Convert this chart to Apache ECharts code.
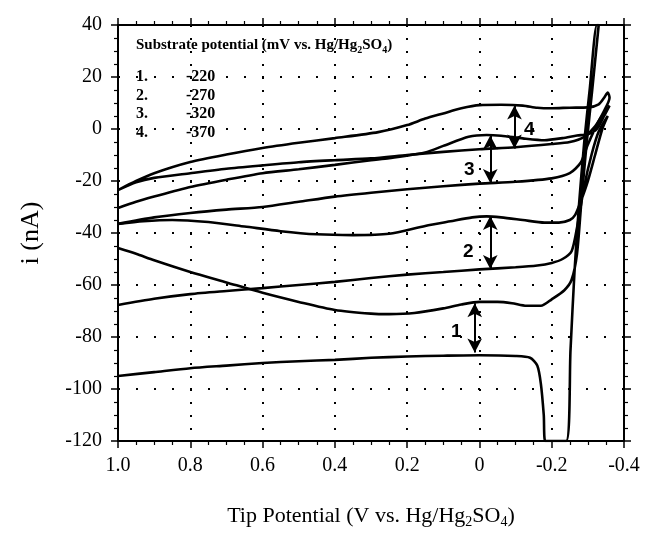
<!DOCTYPE html>
<html>
<head>
<meta charset="utf-8">
<script src="https://cdn.jsdelivr.net/npm/echarts@6/dist/echarts.min.js"></script>
<style>
  html, body { margin: 0; padding: 0; background: #fff; }
  #chart { width: 648px; height: 537px; }
</style>
</head>
<body>
<div id="chart"></div>
<script>
// tick labels
const xTickLabels = ["-0.4", "-0.2", "0", "0.2", "0.4", "0.6", "0.8", "1.0"];
const yTickLabels = ["-120", "-100", "-80", "-60", "-40", "-20", "0", "20", "40"];

// legend
const legendNums = ["1.", "2.", "3.", "4."];
const substratePotentials = ["-220", "-270", "-320", "-370"];

// curve 1 (-220 mV): forward scan then return, [tip potential, current]
const curve1 = [
  [1.0, -95], [0.9, -93.5], [0.8, -92], [0.7, -91], [0.6, -90], [0.5, -89.3],
  [0.4, -88.8], [0.3, -88], [0.2, -87.5], [0.1, -87.2], [0.0, -87], [-0.1, -87.3],
  [-0.14, -88], [-0.16, -91], [-0.17, -98], [-0.178, -110], [-0.182, -120],
  [-0.24, -120], [-0.252, -85], [-0.263, -55], [-0.275, -30], [-0.29, -5],
  [-0.305, 15], [-0.325, 40],
  [-0.33, 40], [-0.312, 15], [-0.297, -5], [-0.282, -28], [-0.27, -48],
  [-0.255, -58], [-0.235, -62], [-0.2, -65.5], [-0.17, -68], [-0.13, -68],
  [-0.09, -67], [-0.05, -66.5], [0.0, -66.5], [0.05, -67.5], [0.1, -69],
  [0.18, -70.8], [0.25, -71.2], [0.3, -71], [0.4, -69.6], [0.5, -66.5],
  [0.6, -63], [0.7, -59], [0.8, -55], [0.9, -50.5], [0.95, -48], [1.0, -45.8]
];

// curve 2 (-270 mV)
const curve2 = [
  [1.0, -67.7], [0.9, -65.3], [0.8, -63.5], [0.7, -62.3], [0.6, -61.2], [0.5, -60],
  [0.4, -58.8], [0.3, -57.3], [0.2, -56], [0.1, -55], [0.0, -54], [-0.1, -53.2],
  [-0.16, -52.5], [-0.2, -51.5], [-0.23, -50], [-0.255, -47], [-0.27, -38],
  [-0.29, -22], [-0.31, -10], [-0.33, -1], [-0.355, 5],
  [-0.34, 0], [-0.32, -10], [-0.3, -20], [-0.28, -28], [-0.265, -33], [-0.25, -35],
  [-0.22, -36], [-0.18, -36], [-0.12, -35], [-0.06, -34], [-0.02, -33.6], [0.02, -34],
  [0.08, -35.5], [0.15, -37.3], [0.25, -40.3], [0.35, -40.8], [0.45, -40.5],
  [0.55, -39.3], [0.65, -37.5], [0.75, -35.8], [0.85, -35], [0.93, -35.5], [1.0, -36.5]
];

// curve 3 (-320 mV)
const curve3 = [
  [1.0, -36.5], [0.9, -34], [0.8, -32.3], [0.7, -31], [0.6, -30], [0.5, -28],
  [0.4, -26], [0.3, -24.5], [0.2, -23.2], [0.1, -22], [0.0, -21], [-0.1, -20.3],
  [-0.2, -19], [-0.25, -17], [-0.28, -13], [-0.3, -6], [-0.33, 3], [-0.36, 9],
  [-0.345, 5], [-0.325, 0], [-0.3, -2], [-0.27, -2.5], [-0.23, -3.5], [-0.18, -4.3],
  [-0.12, -3.6], [-0.06, -2.6], [-0.02, -2.3], [0.03, -3], [0.1, -6.5], [0.15, -9],
  [0.25, -11.2], [0.3, -12], [0.4, -13.8], [0.5, -15.5], [0.6, -17], [0.7, -19.5],
  [0.8, -22.3], [0.9, -26], [0.95, -28], [1.0, -30.4]
];

// curve 4 (-370 mV)
const curve4 = [
  [1.0, -23.5], [0.95, -20.5], [0.9, -18.8], [0.8, -17], [0.7, -15.3], [0.6, -14],
  [0.5, -12.8], [0.4, -12], [0.3, -11.3], [0.2, -10], [0.1, -8.8], [0.0, -7.8],
  [-0.1, -7], [-0.2, -5.8], [-0.25, -5], [-0.29, -3], [-0.32, 1], [-0.345, 7],
  [-0.36, 12], [-0.355, 14], [-0.345, 12], [-0.33, 9.5], [-0.3, 8.3], [-0.25, 8.2],
  [-0.2, 8], [-0.16, 8.2], [-0.12, 9], [-0.06, 9.3], [0.0, 9.2], [0.05, 8], [0.1, 6],
  [0.15, 4], [0.2, 1.5], [0.28, -1.2], [0.4, -3.5], [0.5, -5.3], [0.6, -7.3],
  [0.7, -9.8], [0.8, -12.7], [0.9, -17], [0.95, -20], [1.0, -23.5]
];

// double arrows between the peaks: x, top, bottom
const arrowX = [0.013, -0.03, -0.03, -0.097];
const arrowTop = [-67, -33.5, -2.5, 9];
const arrowBottom = [-86, -53.8, -20.8, -7.5];
const arrowLabels = ["1", "2", "3", "4"];
const arrowLabelPos = [[0.064, -78], [0.031, -47.2], [0.028, -15.8], [-0.138, -0.4]];

const serif = "Liberation Serif";
const chart = echarts.init(document.getElementById("chart"));

function tickLabel(labels, min, step) {
  return function (v) {
    const i = Math.round((v - min) / step);
    return labels[i] !== undefined ? labels[i] : "";
  };
}

const axisLineStyle = { color: "#000", width: 2 };

const curveSeries = [curve1, curve2, curve3, curve4].map(function (d, i) {
  return {
    name: "curve" + (i + 1),
    type: "line",
    data: d,
    showSymbol: false,
    smooth: 0.25,
    lineStyle: { color: "#000", width: 2.6 },
    silent: true,
    z: 3
  };
});

const arrowSeries = {
  type: "line",
  data: [],
  markLine: {
    silent: true,
    symbol: ["arrow", "arrow"],
    symbolSize: [11, 14],
    label: { show: false },
    lineStyle: { color: "#000", width: 2, type: "solid" },
    data: arrowX.map(function (x, i) {
      return [{ coord: [x, arrowTop[i]] }, { coord: [x, arrowBottom[i]] }];
    })
  }
};

const legendX = 136, legendNumX = 186, legendY0 = 78, legendDy = 18.5;
const graphics = [{
  type: "text",
  left: legendX,
  top: 38,
  style: {
    text: "Substrate potential (mV vs. Hg/Hg{s|2}SO{s|4})",
    font: "bold 15px " + serif,
    fill: "#000",
    rich: { s: { font: "bold 10px " + serif, padding: [9, 0, 0, 0] } }
  }
}];
legendNums.forEach(function (n, i) {
  graphics.push({
    type: "text", left: legendX, top: legendY0 + i * legendDy - 9,
    style: { text: n, font: "bold 16px " + serif, fill: "#000" }
  });
  graphics.push({
    type: "text", left: legendNumX, top: legendY0 + i * legendDy - 9,
    style: { text: substratePotentials[i], font: "bold 16px " + serif, fill: "#000" }
  });
});

function tickSet() {
  return {
    axisTick: { show: true, length: 7, lineStyle: { color: "#000", width: 1.5 } },
    minorTick: { show: true, splitNumber: 4, length: 4, lineStyle: { color: "#000", width: 1.2 } }
  };
}

chart.setOption({
  animation: false,
  backgroundColor: "#fff",
  grid: { left: 118, right: 24, top: 25, bottom: 96 },
  xAxis: [Object.assign({
    type: "value",
    min: -0.4, max: 1.0, interval: 0.2,
    inverse: true,
    position: "bottom",
    axisLine: { onZero: false, lineStyle: axisLineStyle },
    axisLabel: {
      margin: 15, fontFamily: serif, fontSize: 20, color: "#000",
      formatter: tickLabel(xTickLabels, -0.4, 0.2)
    },
    splitLine: { show: true, lineStyle: { color: "#000", width: 2, type: [2, 11] } },
    name: "Tip Potential (V vs. Hg/Hg{s|2}SO{s|4})",
    nameLocation: "middle",
    nameGap: 62,
    nameTextStyle: {
      fontFamily: serif, fontSize: 22, color: "#000",
      rich: { s: { fontFamily: serif, fontSize: 14, padding: [12, 0, 0, 0] } }
    }
  }, tickSet()), Object.assign({
    type: "value",
    min: -0.4, max: 1.0, interval: 0.2,
    inverse: true,
    position: "top",
    axisLine: { onZero: false, lineStyle: axisLineStyle },
    axisLabel: { show: false },
    splitLine: { show: false }
  }, tickSet())],
  yAxis: [Object.assign({
    type: "value",
    min: -120, max: 40, interval: 20,
    position: "left",
    axisLine: { show: true, onZero: false, lineStyle: axisLineStyle },
    axisLabel: {
      margin: 16, fontFamily: serif, fontSize: 20, color: "#000",
      formatter: tickLabel(yTickLabels, -120, 20)
    },
    splitLine: { show: true, lineStyle: { color: "#000", width: 2, type: [2, 16] } },
    name: "i (nA)",
    nameLocation: "middle",
    nameGap: 74,
    nameRotate: 90,
    nameTextStyle: { fontFamily: serif, fontSize: 26, color: "#000" }
  }, tickSet()), Object.assign({
    type: "value",
    min: -120, max: 40, interval: 20,
    position: "right",
    axisLine: { show: true, onZero: false, lineStyle: axisLineStyle },
    axisLabel: { show: false },
    splitLine: { show: false }
  }, tickSet())],
  graphic: graphics,
  series: curveSeries.concat([arrowSeries])
});

// arrow numbers, placed through the axes' scales
const numberGraphics = arrowLabelPos.map(function (p, i) {
  const px = chart.convertToPixel({ xAxisIndex: 0, yAxisIndex: 0 }, p);
  return {
    type: "text",
    x: px[0], y: px[1],
    z: 10,
    style: {
      text: arrowLabels[i],
      font: "bold 19px Liberation Sans",
      fill: "#000",
      align: "center",
      verticalAlign: "middle"
    }
  };
});
chart.setOption({ graphic: graphics.concat(numberGraphics) });
</script>
</body>
</html>
